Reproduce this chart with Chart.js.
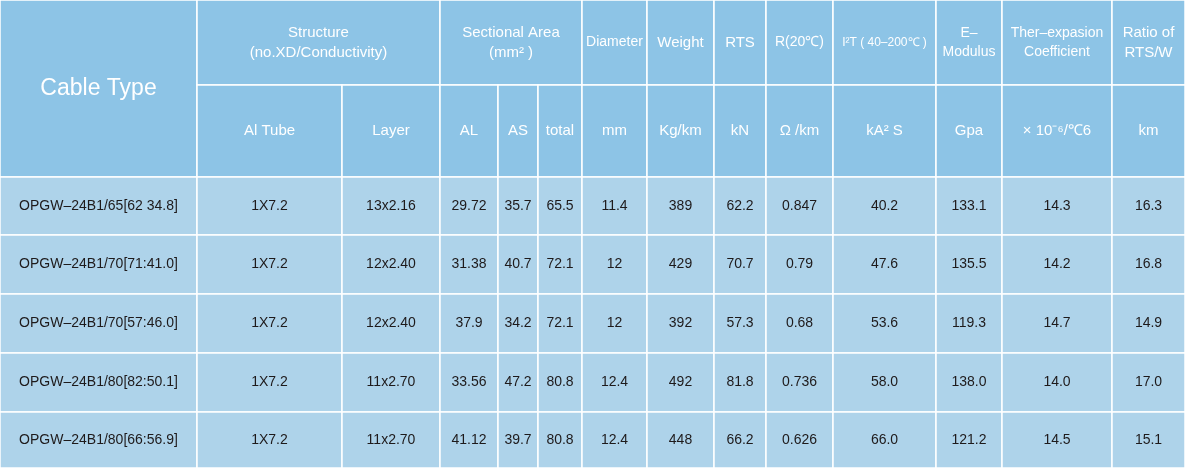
<!DOCTYPE html>
<html><head><meta charset="utf-8">
<script src="https://cdn.jsdelivr.net/npm/chart.js@4"></script>
<style>html,body{margin:0;padding:0;background:#fff}#wrap{width:1185px;height:468px}</style>
</head><body><div id="wrap"><canvas id="tbl"></canvas></div>
<script>
// ── data ─────────────────────────────────────────────
const cableTypes = ['OPGW–24B1/65[62 34.8]', 'OPGW–24B1/70[71:41.0]', 'OPGW–24B1/70[57:46.0]', 'OPGW–24B1/80[82:50.1]', 'OPGW–24B1/80[66:56.9]'];
const alTube   = ['1X7.2', '1X7.2', '1X7.2', '1X7.2', '1X7.2'];
const layer    = ['13x2.16', '12x2.40', '12x2.40', '11x2.70', '11x2.70'];
const areaAL   = ['29.72', '31.38', '37.9', '33.56', '41.12'];
const areaAS   = ['35.7', '40.7', '34.2', '47.2', '39.7'];
const areaTot  = ['65.5', '72.1', '72.1', '80.8', '80.8'];
const diameter = ['11.4', '12', '12', '12.4', '12.4'];
const weight   = ['389', '429', '392', '492', '448'];
const rts      = ['62.2', '70.7', '57.3', '81.8', '66.2'];
const resist   = ['0.847', '0.79', '0.68', '0.736', '0.626'];
const i2t      = ['40.2', '47.6', '53.6', '58.0', '66.0'];
const eMod     = ['133.1', '135.5', '119.3', '138.0', '121.2'];
const therm    = ['14.3', '14.2', '14.7', '14.0', '14.5'];
const ratio    = ['16.3', '16.8', '14.9', '17.0', '15.1'];

const unitLabels = ['', 'Al Tube', 'Layer', 'AL', 'AS', 'total', 'mm', 'Kg/km', 'kN', 'Ω /km', 'kA² S', 'Gpa', '× 10⁻⁶/℃6', 'km'];
// [label lines, first col, last col, font size]
const topHeaders = [
  [['Structure', '(no.XD/Conductivity)'], 1, 2, 15],
  [['Sectional Area', '(mm² )'], 3, 5, 15],
  [['Diameter'], 6, 6, 14], [['Weight'], 7, 7, 15], [['RTS'], 8, 8, 15],
  [['R(20℃)'], 9, 9, 14], [['I²T ( 40–200℃ )'], 10, 10, 12],
  [['E–', 'Modulus'], 11, 11, 14], [['Ther–expasion', 'Coefficient'], 12, 12, 14],
  [['Ratio of', 'RTS/W'], 13, 13, 15],
];
const columns = [cableTypes, alTube, layer, areaAL, areaAS, areaTot, diameter, weight, rts, resist, i2t, eMod, therm, ratio];

// ── layout ───────────────────────────────────────────
const colEdges = [0, 197, 342, 440, 498, 538, 582, 647, 714, 766, 833, 936, 1002, 1112, 1185];
const rowEdges = [0, 85, 177, 235, 294, 353, 412, 468];
const HEAD_BG = '#8dc4e6', BODY_BG = '#aed3ea', LINE = '#ffffff';
const FONT = "'Liberation Sans', Arial, sans-serif";

const tablePlugin = {
  id: 'table',
  afterDraw(chart) {
    const { ctx, scales: { x, y } } = chart;
    const px = v => x.getPixelForValue(v), py = v => y.getPixelForValue(v);
    const rect = (c0, c1, r0, r1, fill) => {
      const x0 = px(colEdges[c0]), y0 = py(rowEdges[r0]);
      const w = px(colEdges[c1]) - x0, h = py(rowEdges[r1]) - y0;
      ctx.fillStyle = fill; ctx.fillRect(x0, y0, w, h);
      ctx.strokeStyle = LINE; ctx.lineWidth = 1.5; ctx.strokeRect(x0, y0, w, h);
    };
    const text = (lines, c0, c1, r0, r1, color, size) => {
      ctx.fillStyle = color; ctx.font = `${size}px ${FONT}`;
      ctx.textAlign = 'center'; ctx.textBaseline = 'middle';
      const cx = (px(colEdges[c0]) + px(colEdges[c1 + 1])) / 2;
      const cy = (py(rowEdges[r0]) + py(rowEdges[r1])) / 2;
      const lh = size + 5;
      lines.forEach((l, i) => ctx.fillText(l, cx, cy + (i - (lines.length - 1) / 2) * lh));
    };
    ctx.save();
    // header
    rect(0, 1, 0, 2, HEAD_BG);
    text(['Cable Type'], 0, 0, 0, 2, '#fff', 23);
    topHeaders.forEach(([lines, c0, c1, size]) => { rect(c0, c1 + 1, 0, 1, HEAD_BG); text(lines, c0, c1, 0, 1, '#fff', size); });
    unitLabels.forEach((u, c) => { if (c > 0) { rect(c, c + 1, 1, 2, HEAD_BG); text([u], c, c, 1, 2, '#fff', 15); } });
    // body
    columns.forEach((col, c) => col.forEach((v, r) => {
      rect(c, c + 1, r + 2, r + 3, BODY_BG);
      text([v], c, c, r + 2, r + 3, '#1e1a1b', 14);
    }));
    ctx.restore();
  },
};

new Chart(document.getElementById('tbl'), {
  type: 'scatter',
  data: { datasets: [{ data: [] }] },
  options: {
    responsive: true, maintainAspectRatio: false, animation: false,
    layout: { padding: 0 },
    plugins: { legend: { display: false }, tooltip: { enabled: false } },
    scales: {
      x: { type: 'linear', min: 0, max: 1185, display: false },
      y: { type: 'linear', min: 0, max: 468, reverse: true, display: false },
    },
  },
  plugins: [tablePlugin],
});
</script></body></html>
